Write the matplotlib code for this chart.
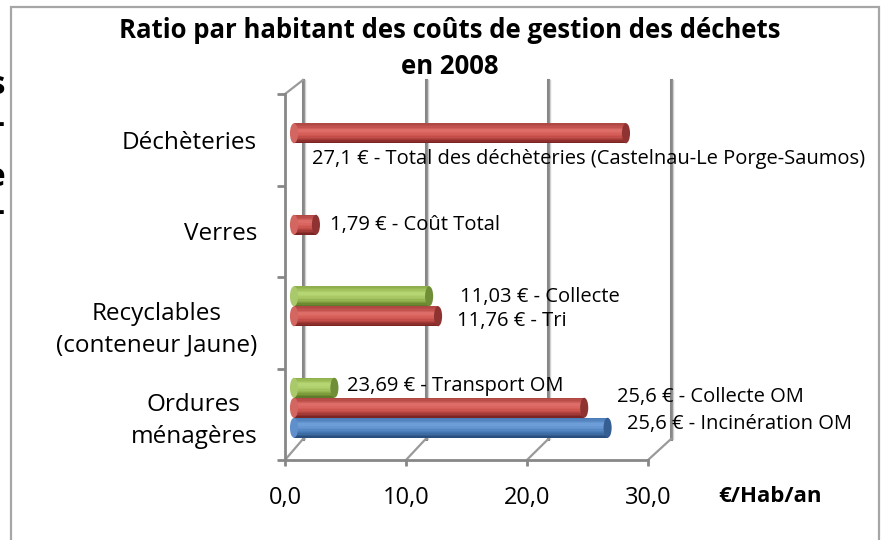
import numpy as np
import matplotlib
matplotlib.use("Agg")
import matplotlib.pyplot as plt
from matplotlib.patches import Ellipse, Rectangle
from matplotlib.transforms import Affine2D, ScaledTranslation
from matplotlib.colors import LinearSegmentedColormap

plt.rcParams['font.family'] = ['Open Sans', 'DejaVu Sans']

# --- data ---------------------------------------------------------------
categories = ["Ordures\nménagères", "Recyclables\n(conteneur Jaune)", "Verres", "Déchèteries"]
# series: blue (incinération), red, green ; None = no bar
blue_vals = [25.6, None, None, None]
red_vals = [23.69, 11.76, 1.79, 27.1]
green_vals = [3.3, 11.03, None, None]

blue_labels = ["25,6 € - Incinération OM", None, None, None]
red_labels = ["25,6 € - Collecte OM", "11,76 € - Tri", "1,79 € - Coût Total",
              "27,1 € - Total des déchèteries (Castelnau-Le Porge-Saumos)"]
green_labels = ["23,69 € - Transport OM", "11,03 € - Collecte", None, None]

# manual label offsets (px) from bar end, as moved in the original
blue_offs = [(15, -4), None, None, None]
red_offs = [(29, -11), (15, 5), (10, 0), (-318, 26)]
green_offs = [(9, -2), (27, 1), None, None]

xticks = [0, 10, 20, 30]
xticklabels = ["0,0", "10,0", "20,0", "30,0"]

# --- figure -------------------------------------------------------------
W, H = 885, 540
fig = plt.figure(figsize=(W / 100, H / 100), dpi=100)
ax = fig.add_axes([285 / W, 80 / H, 363 / W, 366 / H])
ax.set_xlim(0, 30)
ax.set_ylim(-0.5, 3.5)
ax.patch.set_visible(False)
PXX = 30 / 363.0
PXY = 4 / 366.0
GRID = '#878787'

for s in ['top', 'right']:
    ax.spines[s].set_visible(False)
for s in ['left', 'bottom']:
    ax.spines[s].set_color(GRID)
    ax.spines[s].set_linewidth(2)

ax.set_yticks([-0.5, 0.5, 1.5, 2.5, 3.5])
ax.set_yticklabels([])
ax.tick_params(axis='y', which='major', length=6, width=2, color=GRID)
ax.set_yticks(range(len(categories)), labels=categories, minor=True)
ax.tick_params(axis='y', which='minor', length=0, pad=20, labelsize=17.5)
for lab in ax.get_yticklabels(minor=True):
    lab.set_multialignment('center')
    lab.set_linespacing(1.45)

ax.set_xticks(xticks, labels=xticklabels)
ax.tick_params(axis='x', length=4.5, width=2, color=GRID, pad=14, labelsize=17)
fig.text(770 / W, 1 - 497 / H, "€/Hab/an", ha='center', va='center',
         fontsize=16, fontweight='bold')

# back wall gridlines + floor / wall diagonals (3D look)
top_back = 3.5 + 14 * PXY
bot_back = -0.5 + 21 * PXY
for v in xticks:
    xb = v + (18 + v / 30 * 5) * PXX
    ax.plot([xb, xb], [bot_back, top_back], color=GRID, lw=2.2, clip_on=False, zorder=1)
    ax.plot([xb + 2 * PXX] * 2, [bot_back, top_back], color='#d0d0d0', lw=1, clip_on=False, zorder=1)
    ax.plot([v, xb], [-0.5, bot_back], color='#9a9a9a', lw=1.6, clip_on=False, zorder=1)
xb0 = 18 * PXX
ax.plot([0, xb0], [3.5, top_back], color='#9a9a9a', lw=1.6, clip_on=False, zorder=1)

# --- cylinders ------------------------------------------------------------
cmaps = {
    'red': LinearSegmentedColormap.from_list('r', ['#7a2523', '#a63c39', '#c9504c', '#d8625d', '#e0716b', '#c55450', '#b04844']),
    'green': LinearSegmentedColormap.from_list('g', ['#5f7a2a', '#7f9e3c', '#9bbb59', '#aecd6a', '#b9d878', '#a3c45e', '#8fb04c']),
    'blue': LinearSegmentedColormap.from_list('b', ['#2a4f7e', '#3f6ea6', '#4f81bd', '#6394d0', '#71a2da', '#5b8cc8', '#4a7cb7']),
}
cap_col = {'red': '#8e3331', 'green': '#6f8e35', 'blue': '#355f93'}
start_col = {'red': '#d36660', 'green': '#a9c96a', 'blue': '#5f90cc'}

trans_mid = Affine2D().scale(12.25 / 12.1, 1) + ax.transData + \
    ScaledTranslation(9 / 100, 6.5 / 100, fig.dpi_scale_trans)

bh = 20 * PXY
nslice = 14


def cylinder(v, yc, name):
    cm = cmaps[name]
    y0 = yc - bh / 2
    for k in range(nslice):
        ax.barh(y0 + k * bh / nslice, v, height=bh / nslice + 0.0005, align='edge',
                color=cm(k / (nslice - 1)), lw=0, transform=trans_mid, zorder=3)
    ax.add_patch(Ellipse((0, yc), 8 * PXX, bh, color=start_col[name], lw=0,
                         transform=trans_mid, zorder=3))
    ax.add_patch(Ellipse((v, yc), 8 * PXX, bh, color=cap_col[name], lw=0,
                         transform=trans_mid, zorder=4))


series = [(blue_vals, blue_labels, blue_offs, 'blue', -bh),
          (red_vals, red_labels, red_offs, 'red', 0.0),
          (green_vals, green_labels, green_offs, 'green', bh)]

for vals, labs, offs, name, dy in series:
    for i, v in enumerate(vals):
        if v is None:
            continue
        cylinder(v, i + dy, name)
        ox, oy = offs[i]
        ax.annotate(labs[i], xy=(v, i + dy), xycoords=trans_mid,
                    xytext=(4 + ox, -oy), textcoords='offset pixels',
                    ha='left', va='center', fontsize=14.5, annotation_clip=False, zorder=5)

# --- title ----------------------------------------------------------------
fig.text(450 / W, 1 - 30 / H, "Ratio par habitant des coûts de gestion des déchets",
         ha='center', va='center', fontsize=18.5, fontweight='bold')
fig.text(450 / W, 1 - 66 / H, "en 2008", ha='center', va='center',
         fontsize=18.5, fontweight='bold')

# chart frame
fig.add_artist(Rectangle((11 / W, -0.05), (879 - 11) / W, 1.05 - 7 / H,
                         transform=fig.transFigure, fill=False, ec='#a6a6a6', lw=1.6))

# fragments of cropped text on the far left
for ch, yy in [("s", 85), ("-", 125), ("e", 178), ("-", 213)]:
    fig.text(5 / W, 1 - yy / H, ch, ha='right', va='center', fontsize=24, fontweight='bold')

fig.savefig("out.png", dpi=100)
